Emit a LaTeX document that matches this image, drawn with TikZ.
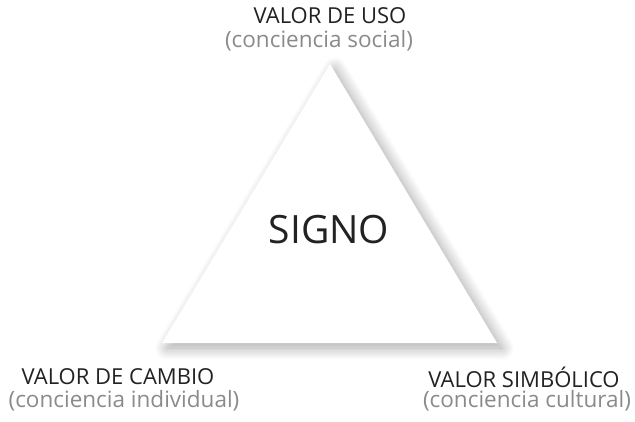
\documentclass[tikz,border=0pt]{standalone}
\usepackage{fontspec}
\setmainfont{Open Sans}
\usetikzlibrary{shadows.blur}
\definecolor{textodark}{HTML}{222222}
\definecolor{textogris}{HTML}{8A8A8A}

\begin{document}
\begin{tikzpicture}[x=1pt,y=-1pt,
	titulo/.style={text=textodark,font=\fontsize{22}{24}\selectfont,inner sep=0pt},
	nota/.style={text=textogris,font=\fontsize{22.5}{24}\selectfont,inner sep=0pt},
	signo/.style={text=textodark,font=\fontsize{39}{42}\selectfont,inner sep=0pt}]
	\useasboundingbox (0,0) rectangle (635,422);

	% triangulo con sombra
	\coordinate (arriba) at (330,64);
	\coordinate (izq) at (162,343);
	\coordinate (der) at (497,343);
	\fill[white,blur shadow={shadow xshift=5pt,shadow yshift=-5pt,shadow blur radius=12pt,shadow blur steps=24,shadow opacity=35}]
		(arriba) -- (der) -- (izq) -- cycle;
	\node[signo] (centro) at (329,230) {SIGNO};

	% vertice superior
	\node[titulo] (uso) at (330,16) {VALOR DE USO};
	\node[nota] (usonota) at (319,41) {(conciencia social)};

	% vertice izquierdo
	\node[titulo] (cambio) at (118,377) {VALOR DE CAMBIO};
	\node[nota] (cambionota) at (124,401) {(conciencia individual)};

	% vertice derecho
	\node[titulo] (simbolico) at (524,377) {VALOR SIMBÓLICO};
	\node[nota] (simbolconota) at (527,401) {(conciencia cultural)};
\end{tikzpicture}
\end{document}
